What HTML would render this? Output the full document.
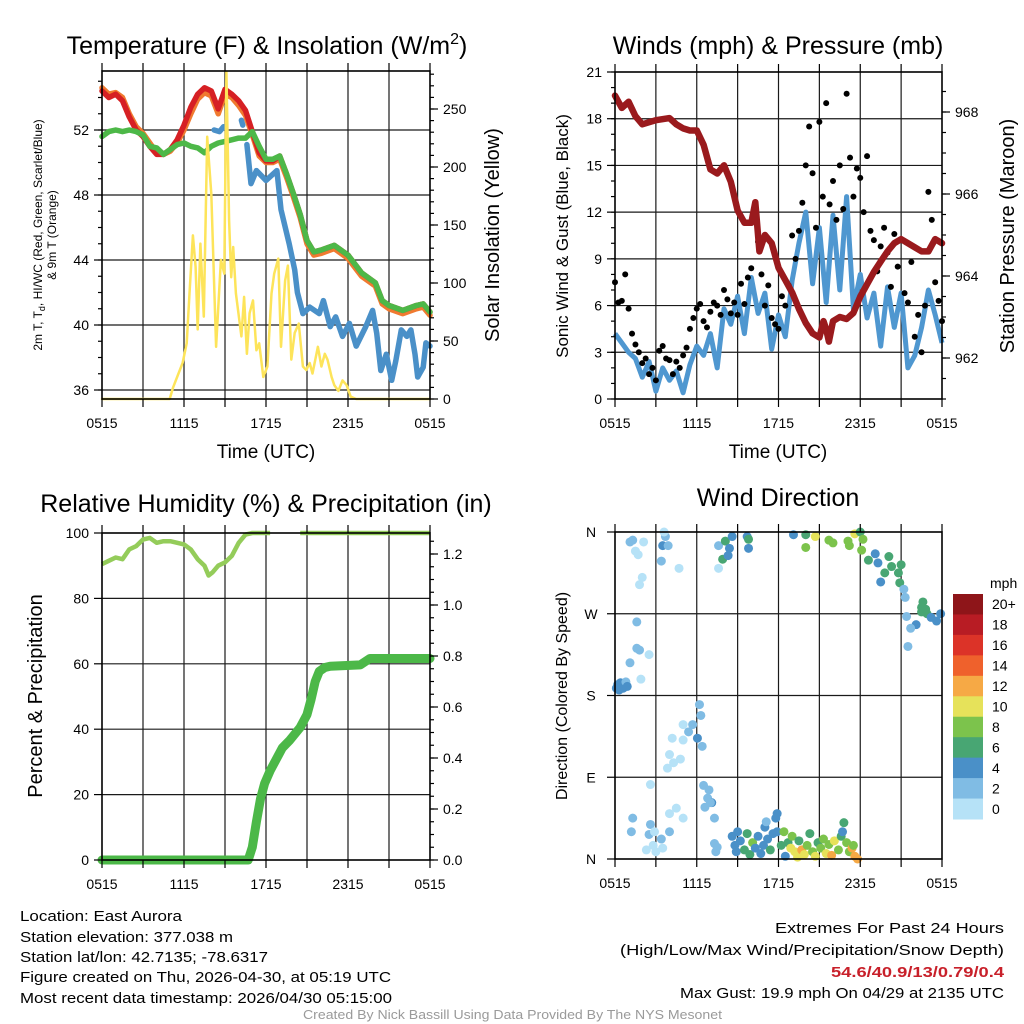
<!DOCTYPE html>
<html><head><meta charset="utf-8"><title>East Aurora Meteogram</title>
<style>
html,body{margin:0;padding:0;background:#fff;}
svg{display:block;font-family:"Liberation Sans",Arial,sans-serif;}
</style></head>
<body>
<svg id="chart" width="1024" height="1024" viewBox="0 0 1024 1024">
  <rect x="0" y="0" width="1024" height="1024" fill="#fff"/>
  <!-- titles -->
  <text x="267" y="54" font-size="25" text-anchor="middle">Temperature (F) &amp; Insolation (W/m<tspan font-size="16" dy="-10">2</tspan><tspan dy="10">)</tspan></text>
  <text x="778" y="54" font-size="25" text-anchor="middle">Winds (mph) &amp; Pressure (mb)</text>
  <text x="266" y="512" font-size="25" text-anchor="middle">Relative Humidity (%) &amp; Precipitation (in)</text>
  <text x="778" y="506" font-size="25" text-anchor="middle">Wind Direction</text>
  <!-- x titles -->
  <text x="266" y="458" font-size="19" text-anchor="middle">Time (UTC)</text>
  <text x="778" y="458" font-size="19" text-anchor="middle">Time (UTC)</text>
  <!-- y titles -->
  <text transform="translate(42,235) rotate(-90)" font-size="12" text-anchor="middle">2m T, T<tspan font-size="9" dy="3">d</tspan><tspan dy="-3">, HI/WC (Red, Green, Scarlet/Blue)</tspan></text>
  <text transform="translate(56,235) rotate(-90)" font-size="12" text-anchor="middle">&amp; 9m T (Orange)</text>
  <text transform="translate(499,235) rotate(-90)" font-size="20" text-anchor="middle">Solar Insolation (Yellow)</text>
  <text transform="translate(568,236) rotate(-90)" font-size="17" text-anchor="middle">Sonic Wind &amp; Gust (Blue, Black)</text>
  <text transform="translate(1014,236) rotate(-90)" font-size="20" text-anchor="middle">Station Pressure (Maroon)</text>
  <text transform="translate(42,696) rotate(-90)" font-size="20" text-anchor="middle">Percent &amp; Precipitation</text>
  <text transform="translate(567,696) rotate(-90)" font-size="16" text-anchor="middle">Direction (Colored By Speed)</text>
  <!-- footer text -->
  <g font-size="15">
    <text x="20" y="921" textLength="162" lengthAdjust="spacingAndGlyphs">Location: East Aurora</text>
    <text x="20" y="942" textLength="213" lengthAdjust="spacingAndGlyphs">Station elevation: 377.038 m</text>
    <text x="20" y="962" textLength="248" lengthAdjust="spacingAndGlyphs">Station lat/lon: 42.7135; -78.6317</text>
    <text x="20" y="982" textLength="371" lengthAdjust="spacingAndGlyphs">Figure created on Thu, 2026-04-30, at 05:19 UTC</text>
    <text x="20" y="1003" textLength="372" lengthAdjust="spacingAndGlyphs">Most recent data timestamp: 2026/04/30 05:15:00</text>
  </g>
  <g font-size="15">
    <text x="775" y="933" textLength="229" lengthAdjust="spacingAndGlyphs">Extremes For Past 24 Hours</text>
    <text x="620" y="955" textLength="384" lengthAdjust="spacingAndGlyphs">(High/Low/Max Wind/Precipitation/Snow Depth)</text>
    <text x="831" y="977" textLength="173" lengthAdjust="spacingAndGlyphs" font-weight="bold" fill="#c8202a">54.6/40.9/13/0.79/0.4</text>
    <text x="680" y="998" textLength="324" lengthAdjust="spacingAndGlyphs">Max Gust: 19.9 mph On 04/29 at 2135 UTC</text>
  </g>
  <text x="303" y="1019" textLength="419" lengthAdjust="spacingAndGlyphs" font-size="13" fill="#9a9a9a">Created By Nick Bassill Using Data Provided By The NYS Mesonet</text>
</svg>
<script>
// ---------- DATA ----------
const xTickLabels = ["0515","1115","1715","2315","0515"];
// Temperature panel (hours since 0515 UTC)
const tempTimes = [0,0.5,1,1.5,2,2.5,3,3.5,4,4.5,5,5.5,6,6.5,7,7.5,8,8.5,9,9.5,10,10.5,11,11.5,12,12.5,13,13.5,14,14.5,15,15.5,16,17,18,19,20,20.5,21,22,23,23.5,24];
const tempRed = [54.4,54.0,54.2,53.8,52.8,52.0,51.6,51.0,50.5,50.5,50.8,51.4,52.3,53.4,54.2,54.6,54.4,53.3,54.5,54.2,53.8,53.2,51.9,50.6,50.1,50.1,50.4,49.3,48.1,46.8,45.2,44.5,44.6,44.9,44.3,43.2,42.6,41.5,41.2,40.9,41.2,41.3,40.8];
const temp9m = [54.6,54.2,54.3,54.0,53.0,52.2,51.8,51.2,50.6,50.5,50.7,51.2,52.0,53.0,53.9,54.3,54.1,53.0,54.2,54.0,53.5,52.9,51.7,50.4,50.0,50.0,50.2,49.1,47.9,46.6,45.0,44.3,44.4,44.7,44.1,43.0,42.4,41.3,41.0,40.7,41.0,41.1,40.6];
const tempGreen = [51.6,51.9,52.0,51.9,52.0,51.9,51.7,51.0,50.9,50.5,50.8,51.1,51.2,51.0,50.9,50.6,51.0,51.2,51.3,51.4,51.5,51.5,51.9,51.0,50.2,50.2,50.4,49.3,48.1,46.8,45.2,44.5,44.6,44.9,44.3,43.2,42.6,41.5,41.2,40.9,41.2,41.3,40.8];
const dewTimes = [8.2,8.6,8.9,null,10.2,10.3,null,10.6,10.9,11.3,12.0,12.8,13.1,13.7,14.1,14.3,14.7,15.2,15.9,16.2,16.7,17.1,17.6,18.1,18.6,19.3,19.8,20.1,20.4,20.8,21.2,21.5,21.9,22.3,22.6,22.9,23.1,23.5,23.7,24];
const dewValues = [52.0,51.9,52.2,null,52.6,52.3,null,51.1,48.7,49.5,48.9,49.5,47.1,45.0,43.4,42.0,40.7,41.1,40.7,41.5,39.9,40.5,39.3,40.1,38.7,39.9,40.9,39.5,37.2,38.2,36.6,37.8,39.7,39.3,39.7,38.2,36.8,37.4,38.9,38.7];
const insTimes = [0,4.95,5.2,5.6,5.9,6.2,6.4,6.65,6.85,7.0,7.2,7.45,7.7,8.0,8.35,8.7,8.95,9.1,9.3,9.45,9.6,9.8,10.2,10.4,10.6,10.8,11.05,11.3,11.5,11.8,12.1,12.4,12.6,12.9,13.1,13.4,13.6,13.85,14.1,14.4,14.7,14.95,15.2,15.4,15.8,16.05,16.3,16.5,16.8,17.0,17.3,17.6,17.9,18.2,18.6,24];
const insValues = [0,0,10,22,31,48,91,141,114,60,134,71,226,177,45,120,108,282,154,105,131,91,54,88,39,74,85,42,48,19,28,91,108,121,45,102,115,34,57,65,28,25,31,22,45,28,39,34,19,12,7,16,12,2,0,0];
const tempTicks = [36,40,44,48,52];
const insTicks = [0,50,100,150,200,250];
// Winds panel
const windTimes = [0,0.5,1,1.5,2,2.5,3,3.5,4,4.5,5,5.5,6,6.5,7,7.5,8,8.5,9,9.5,10,10.5,11,11.5,12,12.5,13,13.5,14,14.5,15,15.5,16,16.5,17,17.5,18,18.5,19,19.5,20,20.5,21,21.5,22,22.5,23,23.5,24];
const windSpeed = [4.2,3.6,3.0,2.6,1.4,2.4,0.5,2.0,1.2,1.8,0.4,2.2,3.4,2.8,4.2,2.0,5.8,4.8,6.6,4.2,7.8,5.5,6.8,3.2,5.4,4.0,7.6,10.0,12.0,7.4,11.0,6.2,11.8,7.0,13.0,5.8,8.0,5.2,6.8,3.4,7.2,4.6,6.8,2.0,2.8,4.6,7.0,5.4,3.6];
const gustValues = [7.5,6.2,6.3,8.0,5.8,4.2,3.5,3.0,2.3,2.6,1.6,2.0,1.2,3.1,3.4,2.6,2.5,1.6,2.4,2.0,2.8,3.3,4.5,5.2,5.8,6.1,5.0,4.6,5.6,6.2,6.0,5.4,7.0,6.4,5.5,6.2,5.4,7.4,6.1,7.8,8.4,11.5,10.1,8.0,6.0,7.3,5.2,4.8,4.5,6.6,6.0,7.3,10.5,9.0,10.8,12.6,15.0,17.5,14.5,11.0,17.8,13.0,19.0,12.5,14.0,11.5,15.0,12.2,19.6,15.5,13.0,14.8,14.2,12.0,15.6,10.8,10.2,8.2,9.8,11.0,9.4,7.2,10.6,8.5,10.2,6.8,6.2,8.8,4.0,5.4,3.0,6.0,13.3,11.5,7.5,6.3,5.0];
const presTimes = [0,0.5,1,1.5,2,3,4,4.5,5,5.5,6,6.5,7,7.5,8,8.5,9,9.5,10,10.3,10.6,11,11.5,12,12.5,13,13.5,14,14.5,15,15.3,15.5,15.7,16,16.5,17,17.5,18,18.5,19,19.5,20,20.5,21,21.5,22,22.5,23,23.5,24];
const presValues = [968.4,968.1,968.25,967.9,967.7,967.8,967.85,967.7,967.6,967.55,967.55,967.2,966.6,966.5,966.7,966.3,965.6,965.3,965.3,965.8,964.6,965.0,964.8,964.2,963.9,963.6,963.2,962.85,962.6,962.5,962.9,962.7,962.4,962.9,963.0,962.95,963.1,963.5,963.8,964.1,964.35,964.6,964.8,964.9,964.8,964.7,964.6,964.6,964.9,964.8];
const windTicks = [0,3,6,9,12,15,18,21];
const presTicks = [962,964,966,968];
// Humidity panel
const rhTimes = [0,0.5,1,1.5,2,2.5,3,3.5,4,4.5,5,5.5,6,6.5,7,7.5,7.8,8.1,8.5,9,9.5,10,10.5,11,11.5,12,12.3,null,14.5,24];
const rhValues = [90.5,91.5,92.5,92,95,96,98,98.5,97,97.5,97.5,97,96.5,95,92,90,87,88,90,91,93,97,99.5,100,100,100,100,null,100,100];
const precipTimes = [0,10.7,11.0,11.3,11.6,11.9,12.3,12.7,13.2,13.75,14.5,15.0,15.3,15.6,15.9,16.3,16.7,18.9,19.6,24];
const precipValues = [0,0,0.05,0.15,0.24,0.30,0.35,0.39,0.44,0.47,0.52,0.57,0.63,0.70,0.74,0.755,0.76,0.765,0.79,0.79];
const rhTicks = [0,20,40,60,80,100];
const precipTicks = ["0.0","0.2","0.4","0.6","0.8","1.0","1.2"];
// Wind direction panel
const dirTimes = [0.1,0.2,0.3,0.4,0.5,0.6,0.8,0.9,1.1,1.3,1.5,2.1,1.7,1.8,2.0,1.6,1.8,1.6,1.1,1.9,2.5,3.7,3.5,3.4,3.9,3.6,4.7,1.3,1.2,2.6,2.5,2.9,2.8,2.3,3.0,3.4,3.5,4.0,2.6,4.0,4.5,5.0,6.2,6.3,5.7,5.0,5.4,4.2,5.0,6.05,4.0,4.3,4.8,3.85,6.4,6.5,6.9,6.8,7.1,6.6,7.0,7.3,7.3,7.4,7.5,7.6,8.1,8.6,8.4,7.9,8.3,7.6,9.7,9.8,9.8,8.6,8.8,8.9,9.0,9.2,9.5,9.7,9.9,10.1,10.3,10.5,10.7,10.9,11.0,11.2,11.4,11.6,11.8,11.9,12.2,12.4,12.5,12.7,12.9,13.0,13.2,13.4,13.5,13.7,13.9,14.1,14.3,14.5,14.7,14.9,15.1,15.3,15.5,15.7,15.9,16.1,16.4,16.6,16.8,16.7,17.0,17.2,17.4,17.6,17.8,17.5,11.1,11.9,13.1,14.0,14.7,15.7,16.0,17.1,17.2,14.0,17.6,18.0,18.2,18.1,18.6,19.1,19.3,20.1,19.8,20.3,20.8,21.0,19.5,20.9,21.2,21.3,22.6,22.9,22.5,23.2,21.4,22.1,21.7,21.5,22.5,23.6,23.9,22.8];
const dirValues = [188,192,186,194,190,188,195,190,349,351,339,349,335,302,310,261,230,232,216,198,225,355,345,328,345,360,320,45,30,38,27,30,15,10,8,22,12,30,82,50,56,45,170,158,148,148,140,133,131,133,115,106,110,100,124,81,76,67,62,57,62,45,17,8,13,345,350,355,342,330,334,320,355,342,352,25,15,8,30,20,10,28,5,18,12,25,6,15,35,22,10,28,45,30,15,30,3,18,12,25,8,2,20,10,5,15,28,8,3,18,12,22,6,16,4,20,10,25,40,30,18,8,12,3,0,15,41,50,357,357,355,351,348,350,345,343,358,360,352,340,329,336,326,333,315,322,315,324,305,304,297,288,283,270,272,266,267,258,254,234,277,262,270,275];
const dirSpeeds = [4,4,4,4,4,4,3,4,2,2,1,1,1,1,1,2,2,2,3,1,1,3,4,2,3,0,1,2,2,3,2,1,1,0,1,2,1,2,1,1,1,1,2,2,2,1,2,1,1,4,1,1,1,1,2,2,2,2,4,2,2,2,2,2,2,2,6,4,4,6,4,1,4,4,6,4,4,4,4,4,6,6,6,8,4,4,4,4,4,4,6,4,4,4,6,8,4,6,10,8,10,10,6,12,10,8,6,8,10,6,8,8,10,8,12,10,8,6,6,4,8,8,12,12,12,8,2,4,4,6,10,8,8,8,8,8,10,6,8,8,6,4,4,6,6,6,6,6,4,6,2,2,6,6,6,4,2,4,2,2,6,4,4,6];
const dirLabels = ["N","E","S","W","N"];
const speedBinColors = ["#b6e2f7","#80bce4","#4a90c8","#48a673","#7cc34c","#e6e25a","#f6a945","#ef612c","#dc3328","#b81c24","#8e1519"];
const speedBinLabels = ["0","2","4","6","8","10","12","14","16","18","20+"];

// ---------- HELPERS ----------
const svg = document.getElementById('chart');
const NS = svg.namespaceURI;
function mk(tag, parent, attrs){
  const e = document.createElementNS(NS, tag);
  for (const k in attrs) e.setAttribute(k, attrs[k]);
  parent.appendChild(e);
  return e;
}
function lin(d0,d1,r0,r1){ return v => r0 + (v-d0)*(r1-r0)/(d1-d0); }
function pathFrom(ts, vs, sx, sy){
  let d = '', pen = false;
  for (let i=0;i<ts.length;i++){
    if (ts[i]===null || vs[i]===null){ pen=false; continue; }
    d += (pen?'L':'M') + sx(ts[i]).toFixed(1) + ',' + sy(vs[i]).toFixed(1);
    pen = true;
  }
  return d;
}
function frame(g, b, hLines){
  const grid = mk('g', g, {stroke:'#1a1a1a','stroke-width':'1.2'});
  
  
  for (let i=1;i<8;i++){
    const x = b.x0 + i*(b.x1-b.x0)/8;
    mk('line', grid, {x1:x,y1:b.y0,x2:x,y2:b.y1});
  }
  hLines.forEach(y => mk('line', grid, {x1:b.x0,y1:y,x2:b.x1,y2:y}));
}
function border(g, b){
  const r = mk('rect', g, {x:b.x0,y:b.y0,width:b.x1-b.x0,height:b.y1-b.y0,fill:'none',stroke:'#000','stroke-width':'1.6'});
  
  
  const tk = mk('g', g, {stroke:'#000','stroke-width':'1.2'});
  
  
  for (let i=0;i<=8;i++){
    const x = b.x0 + i*(b.x1-b.x0)/8;
    mk('line', tk, {x1:x,y1:b.y1,x2:x,y2:b.y1+8});
    mk('line', tk, {x1:x,y1:b.y0,x2:x,y2:b.y0-8});
  }
  const lab = mk('g', g, {'font-size':'14','text-anchor':'middle'});
  
  
  xTickLabels.forEach((s,i) => {
    const t = mk('text', lab, {x: b.x0 + i*(b.x1-b.x0)/4, y: b.y1+29});
    
    
    t.textContent = s;
  });
}
function yTicks(g, b, side, sy, majors, minors, labels, name){
  const tg = mk('g', g, {stroke:'#000','stroke-width':'1.2'});
  
  
  const x = side==='left' ? b.x0 : b.x1, dir = side==='left' ? -1 : 1;
  minors.forEach(v => { const y=sy(v); if (y>=b.y0-0.5 && y<=b.y1+0.5) mk('line', tg, {x1:x,y1:y,x2:x+dir*4,y2:y}); });
  majors.forEach(v => { const y=sy(v); mk('line', tg, {x1:x,y1:y,x2:x+dir*8,y2:y}); });
  const lg = mk('g', g, {'font-size':'14','text-anchor': side==='left'?'end':'start'});
  
  
  majors.forEach((v,i) => {
    const t = mk('text', lg, {x: x + dir*13, y: sy(v)+5});
    
    
    t.textContent = labels[i];
  });
}
function range(a,b,s){ const r=[]; for(let v=a; v<=b+1e-9; v+=s) r.push(+v.toFixed(3)); return r; }

// ---------- PANEL 1: TEMPERATURE ----------
(function(){
  const b = {x0:102,x1:430,y0:71,y1:399};
  const g = mk('g', svg, {});
  
  
  const sx = lin(0,24,b.x0,b.x1);
  const sy = lin(36,52,390,130);
  const si = lin(0,250,399,109);
  frame(g, b, tempTicks.map(sy));
  const lines = [
    [tempTimes, temp9m, '#f07a30', 5.5, 'temperature-9m-line', sy],
    [tempTimes, tempRed, '#d62024', 5.5, 'temperature-2m-line', sy],
    [tempTimes, tempGreen, '#4db848', 5.5, 'heat-index-wind-chill-line', sy],
    [dewTimes, dewValues, '#4a90c8', 5.5, 'dewpoint-line', sy],
    [insTimes, insValues, '#fde45a', 2.5, 'solar-insolation-line', si]
  ];
  lines.forEach(L => {
    const p = mk('path', g, {d: pathFrom(L[0],L[1],sx,L[5]), fill:'none', stroke:L[2], 'stroke-width':L[3], 'stroke-linejoin':'round','stroke-linecap':'round'});
    
    
  });
  border(g, b);
  yTicks(g, b, 'left', sy, tempTicks, range(36,55,1), tempTicks.map(String), 'temperature-y');
  yTicks(g, b, 'right', si, insTicks, range(0,280,10), insTicks.map(String), 'insolation-y');
})();

// ---------- PANEL 2: WINDS ----------
(function(){
  const b = {x0:615,x1:942,y0:72,y1:399};
  const g = mk('g', svg, {});
  
  
  const sx = lin(0,24,b.x0,b.x1);
  const sy = lin(0,21,399,72);
  const sp = lin(962,968,358,112);
  frame(g, b, windTicks.slice(1,7).map(sy));
  const wl = mk('path', g, {d: pathFrom(windTimes, windSpeed, sx, sy), fill:'none', stroke:'#4f97d0','stroke-width':'5','stroke-linejoin':'round'});
  
  
  const gg = mk('g', g, {fill:'#000'});
  
  
  gustValues.forEach((v,i) => {
    const c = mk('circle', gg, {cx: sx(i*24/(gustValues.length-1)), cy: sy(v), r: 3});
    
    
  });
  const pl = mk('path', g, {d: pathFrom(presTimes, presValues, sx, sp), fill:'none', stroke:'#9a1a1d','stroke-width':'6.5','stroke-linejoin':'round','stroke-linecap':'round'});
  
  
  border(g, b);
  yTicks(g, b, 'left', sy, windTicks, range(0,21,1), windTicks.map(String), 'wind-y');
  yTicks(g, b, 'right', sp, presTicks, range(961,969,0.5), presTicks.map(String), 'pressure-y');
})();

// ---------- PANEL 3: HUMIDITY ----------
(function(){
  const b = {x0:102,x1:430,y0:533,y1:860};
  const g = mk('g', svg, {});
  
  
  const sx = lin(0,24,b.x0,b.x1);
  const sy = lin(0,100,860,533);
  const sp = lin(0,1.2,860,554);
  frame(g, b, rhTicks.slice(1,5).map(sy));
  const pr = mk('path', g, {d: pathFrom(precipTimes, precipValues, sx, sp), fill:'none', stroke:'#4cb848','stroke-width':'9','stroke-linejoin':'round','stroke-linecap':'round'});
  
  
  const rh = mk('path', g, {d: pathFrom(rhTimes, rhValues, sx, sy), fill:'none', stroke:'#94cc5a','stroke-width':'4.5','stroke-linejoin':'round'});
  
  
  border(g, b);
  yTicks(g, b, 'left', sy, rhTicks, [], rhTicks.map(String), 'humidity-y');
  yTicks(g, b, 'right', sp, precipTicks.map(Number), range(0,1.25,0.05), precipTicks, 'precipitation-y');
})();

// ---------- PANEL 4: WIND DIRECTION ----------
(function(){
  const b = {x0:615,x1:942,y0:532,y1:859};
  const g = mk('g', svg, {});
  
  
  const sx = lin(0,24,b.x0,b.x1);
  const sy = lin(0,360,859,532);
  frame(g, b, [90,180,270].map(sy));
  const pg = mk('g', g, {});
  
  
  dirTimes.forEach((t,i) => {
    const bin = Math.min(10, Math.floor(dirSpeeds[i]/2));
    const c = mk('circle', pg, {cx: sx(t), cy: sy(dirValues[i]), r: 4.5, fill: speedBinColors[bin]});
    
    
  });
  border(g, b);
  const tg = mk('g', g, {stroke:'#000','stroke-width':'1.2'});
  
  
  const lg = mk('g', g, {'font-size':'14','text-anchor':'middle'});
  
  
  dirLabels.forEach((s,i) => {
    const y = sy(i*90);
    mk('line', tg, {x1:b.x0,y1:y,x2:b.x0-8,y2:y});
    const t = mk('text', lg, {x: 591, y: y+5});
    
    
    t.textContent = s;
  });
  // colorbar
  const cb = mk('g', svg, {});
  
  
  const h = 225/11;
  const unit = mk('text', cb, {x: 990, y: 588, 'font-size':'14'});
  
  
  unit.textContent = 'mph';
  for (let k=0;k<11;k++){
    const bin = 10-k;
    const r = mk('rect', cb, {x:953, y: 594+k*h, width:30, height:h+0.5, fill: speedBinColors[bin]});
    
    
    const t = mk('text', cb, {x: 992, y: 594+k*h+h/2+5, 'font-size':'14'});
    
    
    t.textContent = speedBinLabels[bin];
  }
})();
</script>
</body></html>
